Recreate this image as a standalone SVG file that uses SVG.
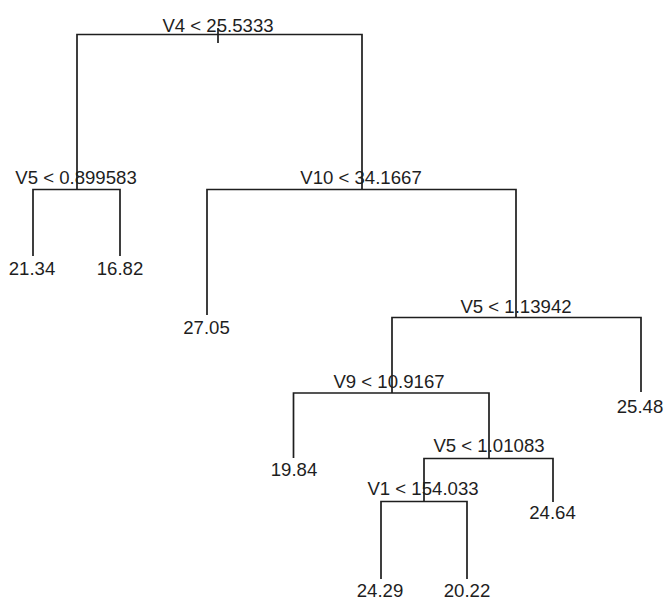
<svg xmlns="http://www.w3.org/2000/svg" width="668" height="600" viewBox="0 0 668 600">
<style>
text{font-family:"Liberation Sans",Arial,sans-serif;font-size:18.6px;fill:#1e1e1e;text-anchor:middle}
.e{fill:none;stroke:#1e1e1e;stroke-width:1.7;stroke-linecap:butt;stroke-linejoin:miter}
</style>
<rect width="668" height="600" fill="#ffffff"/>
<g id="connectors">
<path class="e" d="M218,28 V43"/>
<path class="e" d="M77,190 V34.5 H362 V190"/>
<path class="e" d="M33,256 V189.5 H120 V256"/>
<path class="e" d="M207,315 V189.5 H516 V317.5"/>
<path class="e" d="M392,393 V317.5 H641 V392"/>
<path class="e" d="M293.5,458 V393 H489 V458.5"/>
<path class="e" d="M424,501.5 V458.5 H553 V502"/>
<path class="e" d="M381,579 V501.5 H467 V579"/>
</g>
<g id="n1"><text x="218" y="32">V4 &lt; 25.5333</text></g>
<g id="n2"><text x="76" y="184">V5 &lt; 0.899583</text></g>
<g id="n3"><text x="361" y="184">V10 &lt; 34.1667</text></g>
<g id="n4"><text x="32" y="275">21.34</text></g>
<g id="n5"><text x="120" y="275">16.82</text></g>
<g id="n6"><text x="206.5" y="334">27.05</text></g>
<g id="n7"><text x="516" y="312.5">V5 &lt; 1.13942</text></g>
<g id="n8"><text x="389" y="388">V9 &lt; 10.9167</text></g>
<g id="n9"><text x="640" y="413">25.48</text></g>
<g id="n10"><text x="294" y="476">19.84</text></g>
<g id="n11"><text x="489" y="452">V5 &lt; 1.01083</text></g>
<g id="n12"><text x="423" y="495">V1 &lt; 154.033</text></g>
<g id="n13"><text x="552.5" y="519">24.64</text></g>
<g id="n14"><text x="380" y="597">24.29</text></g>
<g id="n15"><text x="467" y="597">20.22</text></g>
</svg>
